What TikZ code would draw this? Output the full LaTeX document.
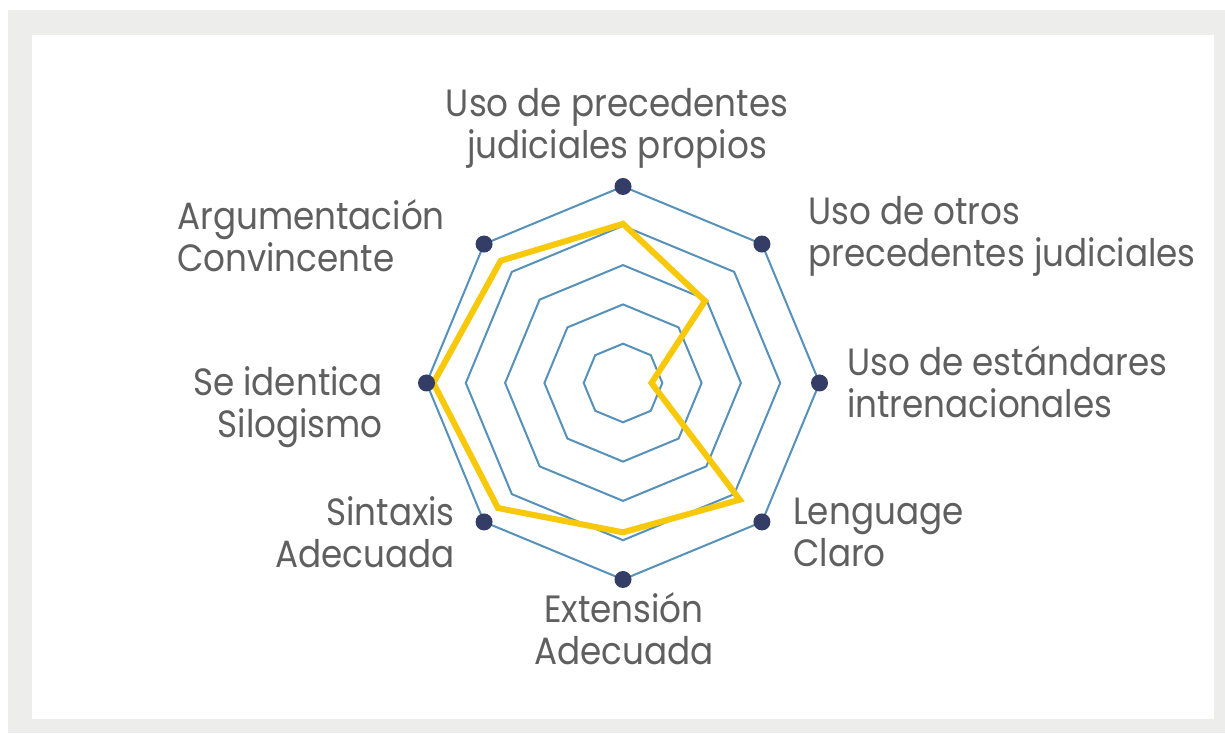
\documentclass[tikz,border=0pt]{standalone}
\usepackage{fontspec}
\setmainfont{Poppins}[FakeStretch=0.9]
\definecolor{framegray}{HTML}{EDEDEB}
\definecolor{ringblue}{HTML}{5591B9}
\definecolor{dotnavy}{HTML}{343D66}
\definecolor{datayellow}{HTML}{F8C80A}
\definecolor{txtgray}{HTML}{5F5F5F}
\begin{document}
\begin{tikzpicture}[x=1pt,y=1pt,
  lbl/.style={font=\fontsize{38}{42}\selectfont, text=txtgray, inner sep=0pt},
  ringline/.style={draw=ringblue, line width=2pt, line join=miter},
  vdot/.style={circle, fill=dotnavy, minimum size=17pt, inner sep=0pt},
  dataline/.style={draw=datayellow, line width=6pt, line join=miter}]
\useasboundingbox (0,0) rectangle (1225,733);
\fill[framegray] (8,0) rectangle (1225,723);
\fill[white] (32,14) rectangle (1214,698);
\begin{scope}[shift={(623,350)}]
  % rings
  \foreach \k in {1,...,5}{
    \pgfmathsetmacro{\rr}{\k*39.3}
    \draw[ringline] (90:\rr) -- (45:\rr) -- (0:\rr) -- (-45:\rr) -- (-90:\rr) -- (-135:\rr) -- (180:\rr) -- (135:\rr) -- cycle;
  }
  % data points
  \coordinate (d1) at (90:0.81*196.5);
  \coordinate (d2) at (45:0.59*196.5);
  \coordinate (d3) at (0:0.145*196.5);
  \coordinate (d4) at (-45:0.84*196.5);
  \coordinate (d5) at (-90:0.76*196.5);
  \coordinate (d6) at (-135:0.90*196.5);
  \coordinate (d7) at (180:0.965*196.5);
  \coordinate (d8) at (135:0.88*196.5);
  \draw[dataline] (d1) -- (d2) -- (d3) -- (d4) -- (d5) -- (d6) -- (d7) -- (d8) -- cycle;
  % outer vertex dots
  \node[vdot] (v1) at (90:196.5) {};
  \node[vdot] (v2) at (45:196.5) {};
  \node[vdot] (v3) at (0:196.5) {};
  \node[vdot] (v4) at (-45:196.5) {};
  \node[vdot] (v5) at (-90:196.5) {};
  \node[vdot] (v6) at (-135:196.5) {};
  \node[vdot] (v7) at (180:196.5) {};
  \node[vdot] (v8) at (135:196.5) {};
\end{scope}
% labels (anchor = baseline of last line)
\node[lbl, align=center, anchor=base] (l1) at (617,574) {Uso de precedentes\\judiciales propios};
\node[lbl, align=left, anchor=base west] (l2) at (808,466) {Uso de otros\\precedentes judiciales};
\node[lbl, align=left, anchor=base west] (l3) at (847,315) {Uso de estándares\\intrenacionales};
\node[lbl, align=left, anchor=base west] (l4) at (793,166) {Lenguage\\Claro};
\node[lbl, align=center, anchor=base] (l5) at (624,68) {Extensión\\Adecuada};
\node[lbl, align=right, anchor=base east] (l6) at (455,165) {Sintaxis\\Adecuada};
\node[lbl, align=right, anchor=base east] (l7) at (383,295) {Se identica\\Silogismo};
\node[lbl, align=left, anchor=base west] (l8) at (177,461) {Argumentación\\Convincente};
\end{tikzpicture}
\end{document}
